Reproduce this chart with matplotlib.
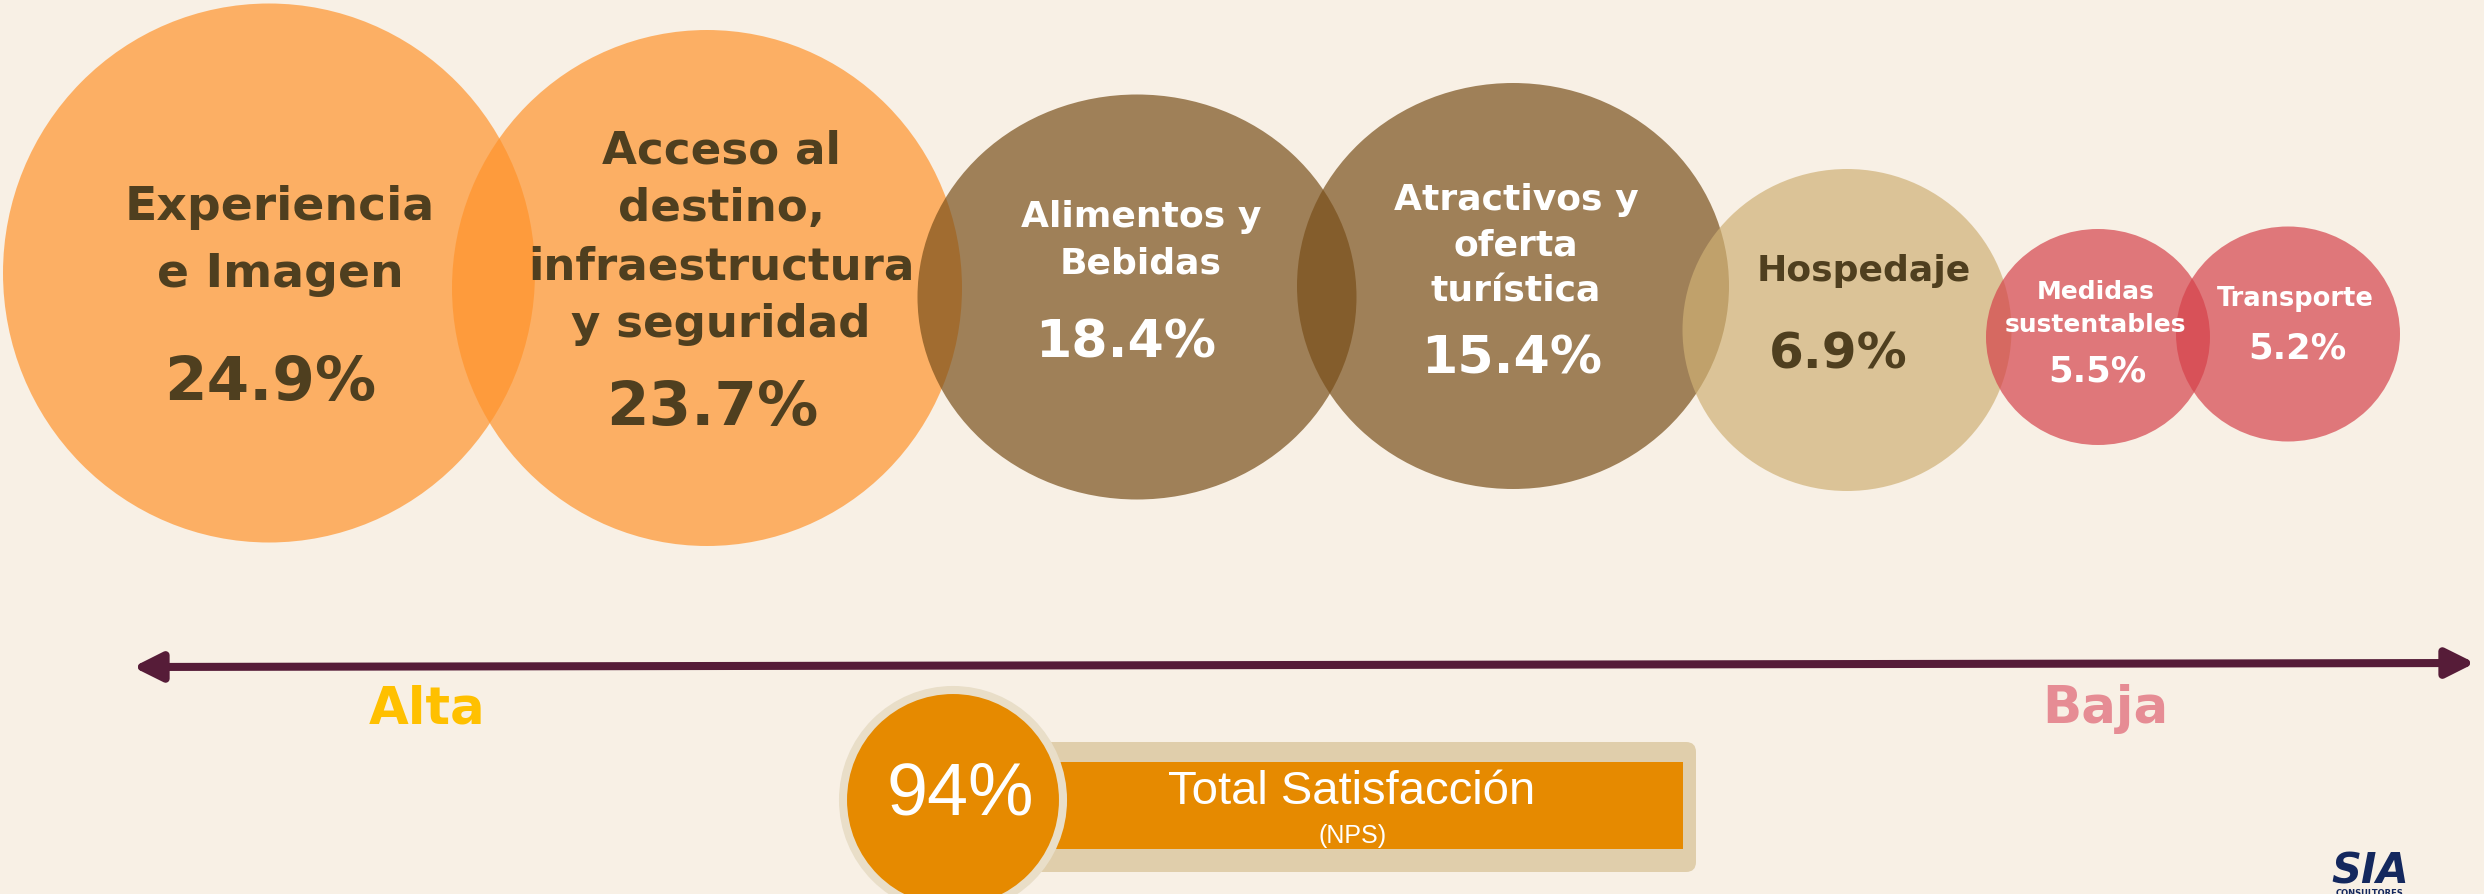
import numpy as np
import matplotlib
matplotlib.use('Agg')
import matplotlib.pyplot as plt
from matplotlib.patches import Ellipse, Rectangle, FancyBboxPatch, FancyArrowPatch

# data
labels = ['Experiencia\ne Imagen',
          'Acceso al\ndestino,\ninfraestructura\ny seguridad',
          'Alimentos y\nBebidas',
          'Atractivos y\noferta\nturística',
          'Hospedaje',
          'Medidas\nsustentables',
          'Transporte']
values = [24.9, 23.7, 18.4, 15.4, 6.9, 5.5, 5.2]
nps_value = 94
nps_label = 'Total Satisfacción'
nps_sub = '(NPS)'
scale_labels = ['Alta', 'Baja']

# layout (pixels)
cx = [269, 707, 1137, 1513, 1847, 2098, 2288]
cy = [274, 289, 298, 287, 331, 338, 335]
ew = [532, 510, 439, 432, 329, 224, 224]
eh = [539, 516, 405, 406, 322, 216, 215]
fills = ['#FF932B', '#FF932B', '#784E19', '#784E19', '#CFB074', '#D5414A', '#D5414A']
txt_col = ['#4F3F1F', '#4F3F1F', 'white', 'white', '#4F3F1F', 'white', 'white']
lab_x = [280, 721, 1141, 1516, 1864, 2096, 2295]
lab_base = [220, 163, 227, 210, 281, 299, 306]
lab_step = [67, 58, 46, 45.5, 0, 33, 0]
lab_size = [34, 32.5, 26, 26, 26, 18, 18.5]
pct_x = [270, 712, 1126, 1512, 1838, 2097, 2297]
pct_base = [400, 425, 357, 373, 368, 381, 358]
pct_size = [44, 44, 37.5, 37.5, 36, 25.5, 25.5]

bg = '#F8F0E5'
font = ['DejaVu Sans']

fig = plt.figure(figsize=(24.84, 8.95), dpi=100, facecolor=bg)
ax = fig.add_axes([0, 0, 1, 1])
ax.set_xlim(0, 2484)
ax.set_ylim(895, 0)
ax.axis('off')
ax.set_facecolor(bg)

for i in range(len(values)):
    ax.add_patch(Ellipse((cx[i], cy[i]), ew[i], eh[i], facecolor=fills[i], alpha=0.69, lw=0, zorder=1 + i * 0.01))

for i in range(len(values)):
    for j, line in enumerate(labels[i].split('\n')):
        ax.text(lab_x[i], lab_base[i] + j * lab_step[i], line, ha='center', va='baseline',
                fontsize=lab_size[i], fontweight='bold', color=txt_col[i], family=font, zorder=5)
    ax.text(pct_x[i], pct_base[i], f'{values[i]:.1f}%', ha='center', va='baseline',
            fontsize=pct_size[i], fontweight='bold', color=txt_col[i], family=font, zorder=5)

# arrow
arr = FancyArrowPatch((133, 668), (2475, 664), arrowstyle='<|-|>,head_length=17,head_width=8.5',
                      mutation_scale=1, color='#561C38', lw=5.8, shrinkA=0, shrinkB=0, zorder=3)
ax.add_patch(arr)
ax.text(427, 723, scale_labels[0], ha='center', va='baseline', fontsize=37, fontweight='bold',
        color='#FFC000', family=font)
ax.text(2105, 723, scale_labels[1], ha='center', va='baseline', fontsize=37, fontweight='bold',
        color='#E68C94', family=font)

# NPS box
ax.add_patch(FancyBboxPatch((1000, 743), 696, 130, boxstyle='round,pad=0,rounding_size=10',
                            facecolor='#E0CEAB', lw=0, zorder=2))
ax.add_patch(Rectangle((1040, 763), 643, 87, facecolor='#E68A00', lw=0, zorder=3))
ax.add_patch(Ellipse((953, 801), 220, 220, facecolor='#E68A00', edgecolor='#E9DEC8', lw=5.8, zorder=4))
ax.text(960, 815, f'{nps_value}%', ha='center', va='baseline', fontsize=53, color='white',
        family='Liberation Sans', zorder=5)
ax.text(1352, 804, nps_label, ha='center', va='baseline', fontsize=34, color='white',
        family='Liberation Sans', zorder=5)
ax.text(1353, 843, nps_sub, ha='center', va='baseline', fontsize=18, color='white',
        family='Liberation Sans', zorder=5)

# logo
ax.text(2370, 884, 'SIA', ha='center', va='baseline', fontsize=30, fontweight='black', style='italic',
        color='#14285E', family=font)
ax.text(2370, 896, 'CONSULTORES', ha='center', va='baseline', fontsize=6, fontweight='bold',
        color='#14285E', family=font)

fig.savefig('out.png', dpi=100, facecolor=bg)
